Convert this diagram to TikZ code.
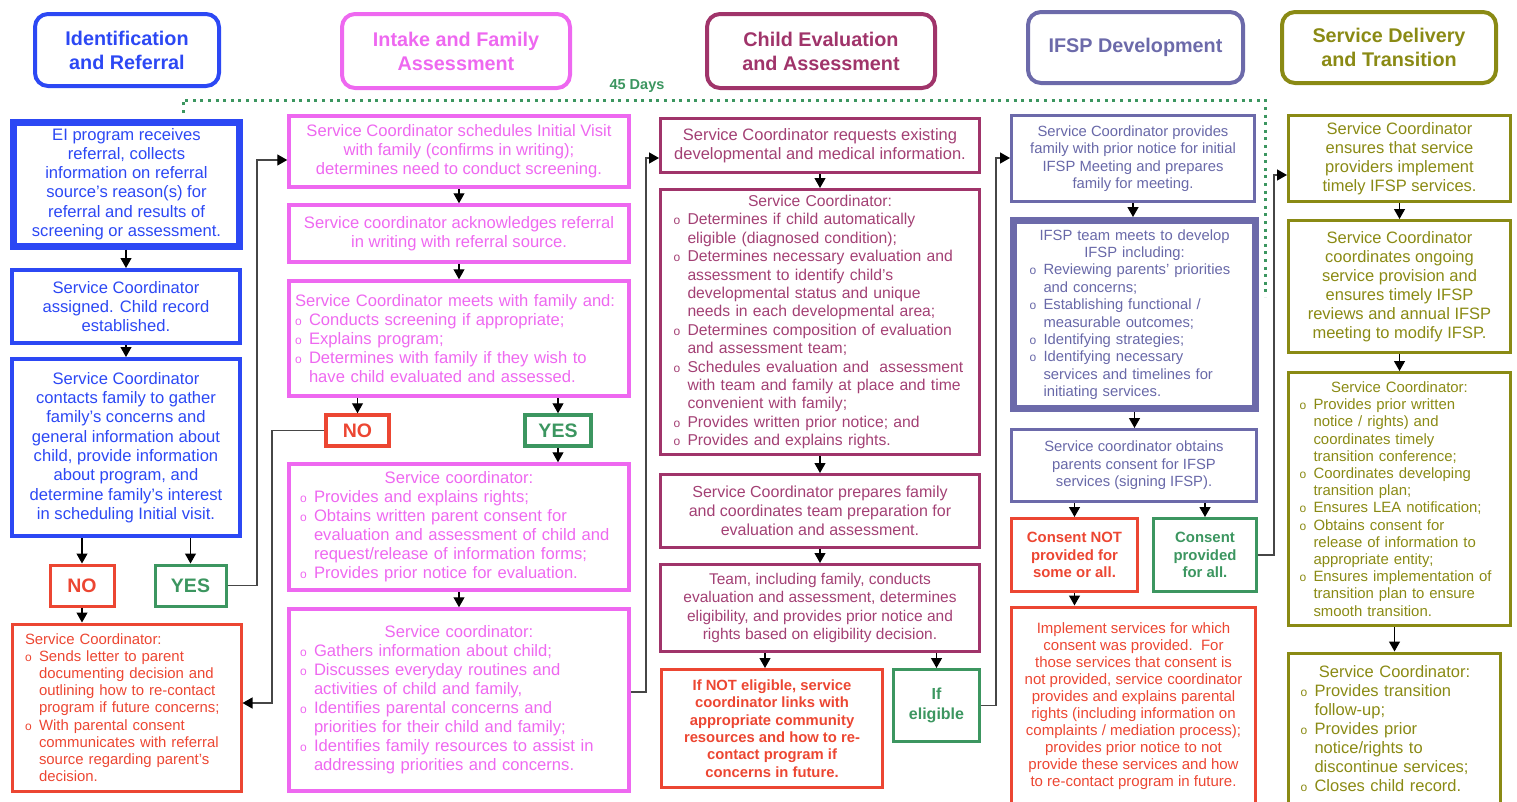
\documentclass[tikz,border=0pt]{standalone}
\usepackage{fontspec}
\setmainfont{Liberation Sans}
\usetikzlibrary{arrows.meta}
\definecolor{idblue}{RGB}{44,72,244}
\definecolor{inmag}{RGB}{238,104,240}
\definecolor{evred}{RGB}{160,52,106}
\definecolor{evtext}{RGB}{163,64,116}
\definecolor{ifsl}{RGB}{108,106,170}
\definecolor{iftext}{RGB}{104,104,168}
\definecolor{sdol}{RGB}{138,138,20}
\definecolor{nored}{RGB}{236,70,50}
\definecolor{yesgr}{RGB}{60,150,96}
\definecolor{linegray}{RGB}{70,70,70}
% bullet item with hanging indent
\newcommand{\itm}{\par\noindent\hangindent=14pt\hangafter=1\makebox[14pt][l]{\fontsize{12}{12}\selectfont o}}
\begin{document}
\begin{tikzpicture}[x=1pt,y=-1pt]
\tikzset{
  box/.style={draw, rectangle, line width=3pt, inner sep=2pt, align=center},
  head/.style={box, rounded corners=13pt, line width=4pt, font=\bfseries\fontsize{19.8}{24}\selectfont},
  idbox/.style={box, draw=idblue, text=idblue, line width=4pt, font=\fontsize{16.6}{19.3}\selectfont},
  inbox/.style={box, draw=inmag, text=inmag, line width=3.5pt, font=\fontsize{16.6}{19}\selectfont},
  evbox/.style={box, draw=evred, text=evtext, font=\fontsize{15.7}{18.4}\selectfont},
  ifbox/.style={box, draw=ifsl, text=iftext, font=\fontsize{14.8}{17.4}\selectfont},
  sdbox/.style={box, draw=sdol, text=sdol, font=\fontsize{16.5}{19}\selectfont},
  sdlist/.style={box, draw=sdol, text=sdol, align=left, font=\fontsize{14.9}{17.2}\selectfont},
  nobox/.style={box, draw=nored, text=nored, font=\bfseries\fontsize{19.5}{22}\selectfont},
  yesbox/.style={box, draw=yesgr, text=yesgr, font=\bfseries\fontsize{19.5}{22}\selectfont},
  redtext/.style={box, draw=nored, text=nored, font=\fontsize{14.9}{17.2}\selectfont},
  redbold/.style={box, draw=nored, text=nored, font=\bfseries\fontsize{14.8}{17.4}\selectfont},
  grnbold/.style={box, draw=yesgr, text=yesgr, font=\bfseries\fontsize{14.9}{17.5}\selectfont},
  arr/.style={-{Triangle[length=10pt,width=11pt]}, line width=1.2pt, draw=black},
  link/.style={-{Triangle[length=10pt,width=11pt,color=black]}, line width=1.4pt, draw=linegray},
  days/.style={draw=yesgr, line width=3pt, dash pattern=on 3pt off 4.6pt}
}
\useasboundingbox (0,0) rectangle (1517,801);
\clip (0,0) rectangle (1517,801);
% column headers
\node[head, draw=idblue, text=idblue, minimum width=184pt, minimum height=72pt] (hId) at (127,50) {Identification\\and Referral};
\node[head, draw=inmag, text=inmag, minimum width=228pt, minimum height=74pt] (hIn) at (456,51) {Intake and Family\\Assessment};
\node[head, draw=evred, text=evred, minimum width=228pt, minimum height=74pt] (hEv) at (821,51) {Child Evaluation\\and Assessment};
\node[head, draw=ifsl, text=ifsl, minimum width=215pt, minimum height=71pt] (hIf) at (1135.5,47.5) {IFSP Development};
\node[head, draw=sdol, text=sdol, minimum width=214pt, minimum height=71pt] (hSd) at (1389,47.5) {Service Delivery\\and Transition};
% 45 days bracket
\draw[days] (183,113) -- (183,100) -- (1265,100) -- (1265,297);
\node[text=yesgr, font=\bfseries\fontsize{14.5}{16}\selectfont] (days) at (637,86) {45 Days};
% identification and referral
\node[idbox, line width=7pt, inner sep=0pt, minimum width=226pt, minimum height=124pt] (ref) at (126.5,184) {EI program receives\\referral, collects\\information on referral\\source’s reason(s) for\\referral and results of\\screening or assessment.};
\node[idbox, minimum width=228pt, minimum height=73pt] (assign) at (126,306.5) {Service Coordinator\\assigned. Child record\\established.};
\node[idbox, minimum width=228pt, minimum height=177pt] (contact) at (126,447.5) {Service Coordinator\\contacts family to gather\\family’s concerns and\\general information about\\child, provide information\\about program, and\\determine family’s interest\\in scheduling Initial visit.};
\node[nobox, minimum width=64pt, minimum height=41pt] (no1) at (82,585.5) {NO};
\node[yesbox, minimum width=71pt, minimum height=41pt] (yes1) at (190.5,585.5) {YES};
\node[redtext, align=left, text width=203pt, minimum width=229pt, minimum height=167pt] (letter) at (126.5,707.5) {Service Coordinator:
\itm Sends letter to parent\newline documenting decision and\newline outlining how to re-contact\newline program if future concerns;
\itm With parental consent\newline communicates with referral\newline source regarding parent’s\newline decision.\par};
\draw[arr] (assign.north |- ref.south) -- (assign.north);
\draw[arr] (assign.south) -- (contact.north);
\draw[arr] (no1.north |- contact.south) -- (no1.north);
\draw[arr] (yes1.north |- contact.south) -- (yes1.north);
\draw[arr] (no1.south) -- (no1.south |- letter.north);
% intake and family assessment
\node[inbox, minimum width=340pt, minimum height=71pt] (visit) at (459,151.5) {Service Coordinator schedules Initial Visit\\with family (confirms in writing);\\determines need to conduct screening.};
\node[inbox, minimum width=340pt, minimum height=57pt] (ack) at (459,233.5) {Service coordinator acknowledges referral\\in writing with referral source.};
\node[inbox, align=left, text width=328pt, minimum width=340pt, minimum height=115pt] (meet) at (459,338.5) {Service Coordinator meets with family and:
\itm Conducts screening if appropriate;
\itm Explains program;
\itm Determines with family if they wish to\newline have child evaluated and assessed.\par};
\node[nobox, line width=3.5pt, minimum width=63pt, minimum height=31pt] (no2) at (357.5,430.5) {NO};
\node[yesbox, line width=3.5pt, minimum width=66pt, minimum height=31pt] (yes2) at (558,430.5) {YES};
\node[inbox, align=left, text width=318pt, minimum width=340pt, minimum height=126pt] (rights) at (459,527) {{\centering Service coordinator:\par}
\itm Provides and explains rights;
\itm Obtains written parent consent for\newline evaluation and assessment of child and\newline request/release of information forms;
\itm Provides prior notice for evaluation.\par};
\node[inbox, align=left, text width=318pt, minimum width=340pt, minimum height=182pt] (gather) at (459,700) {{\centering Service coordinator:\par}
\itm Gathers information about child;
\itm Discusses everyday routines and\newline activities of child and family,
\itm Identifies parental concerns and\newline priorities for their child and family;
\itm Identifies family resources to assist in\newline addressing priorities and concerns.\par};
\draw[arr] (visit.south) -- (ack.north);
\draw[arr] (ack.south) -- (meet.north);
\draw[arr] (no2.north |- meet.south) -- (no2.north);
\draw[arr] (yes2.north |- meet.south) -- (yes2.north);
\draw[arr] (yes2.south) -- (yes2.south |- rights.north);
\draw[arr] (rights.south) -- (gather.north);
% child evaluation and assessment
\node[evbox, font=\fontsize{16.5}{19}\selectfont, minimum width=319pt, minimum height=54pt] (request) at (820,145.5) {Service Coordinator requests existing\\developmental and medical information.};
\node[evbox, align=left, text width=293pt, minimum width=319pt, minimum height=265pt] (determ) at (820,322) {{\centering Service Coordinator:\par}
\itm Determines if child automatically\newline eligible (diagnosed condition);
\itm Determines necessary evaluation and\newline assessment to identify child’s\newline developmental status and unique\newline needs in each developmental area;
\itm Determines composition of evaluation\newline and assessment team;
\itm Schedules evaluation and\ \ assessment\newline with team and family at place and time\newline convenient with family;
\itm Provides written prior notice; and
\itm Provides and explains rights.\par};
\node[evbox, font=\fontsize{16}{19}\selectfont, minimum width=319pt, minimum height=73pt] (prep) at (820,511) {Service Coordinator prepares family\\and coordinates team preparation for\\evaluation and assessment.};
\node[evbox, font=\fontsize{15.5}{18.5}\selectfont, minimum width=319pt, minimum height=87pt] (team) at (820,608) {Team, including family, conducts\\evaluation and assessment, determines\\eligibility, and provides prior notice and\\rights based on eligibility decision.};
\node[redbold, minimum width=221pt, minimum height=118pt] (noelig) at (772,728.5) {If NOT eligible, service\\coordinator links with\\appropriate community\\resources and how to re-\\contact program if\\concerns in future.};
\node[grnbold, font=\bfseries\fontsize{16}{19.5}\selectfont, minimum width=86pt, minimum height=72pt] (elig) at (936.5,705.5) {If\\eligible};
\draw[arr] (request.south) -- (request.south |- determ.north);
\draw[arr] (prep.north |- determ.south) -- (prep.north);
\draw[arr] (prep.south) -- (team.north);
\draw[arr] (team.south -| 765,0) -- (noelig.north -| 765,0);
\draw[arr] (elig.north |- team.south) -- (elig.north);
% IFSP development
\node[ifbox, minimum width=243pt, minimum height=86pt] (notice) at (1133,158.5) {Service Coordinator provides\\family with prior notice for initial\\IFSP Meeting and prepares\\family for meeting.};
\node[ifbox, line width=7pt, align=left, text width=210pt, minimum width=242pt, minimum height=188pt] (develop) at (1134.5,314.5) {{\centering IFSP team meets to develop\\IFSP including:\par}
\itm Reviewing parents’ priorities\newline and concerns;
\itm Establishing functional /\newline measurable outcomes;
\itm Identifying strategies;
\itm Identifying necessary\newline services and timelines for\newline initiating services.\par};
\node[ifbox, minimum width=245pt, minimum height=72pt] (consent) at (1134,465.5) {Service coordinator obtains\\parents consent for IFSP\\services (signing IFSP).};
\node[redbold, font=\bfseries\fontsize{14.9}{17.5}\selectfont, minimum width=126pt, minimum height=73pt] (cnot) at (1074.5,555) {Consent NOT\\provided for\\some or all.};
\node[grnbold, minimum width=103pt, minimum height=73pt] (call) at (1205,555) {Consent\\provided\\for all.};
\node[redtext, font=\fontsize{15}{17}\selectfont, minimum width=244pt, minimum height=198pt] (implement) at (1133.5,706) {Implement services for which\\consent was provided.\ \ For\\those services that consent is\\not provided, service coordinator\\provides and explains parental\\rights (including information on\\complaints / mediation process);\\provides prior notice to not\\provide these services and how\\to re-contact program in future.};
\draw[arr] (notice.south) -- (notice.south |- develop.north);
\draw[arr] (develop.south) -- (develop.south |- consent.north);
\draw[arr] (consent.south -| cnot.north) -- (cnot.north);
\draw[arr] (consent.south -| call.north) -- (call.north);
\draw[arr] (cnot.south) -- (cnot.south |- implement.north);
% service delivery and transition
\node[sdbox, minimum width=222pt, minimum height=86pt] (timely) at (1399.5,158.5) {Service Coordinator\\ensures that service\\providers implement\\timely IFSP services.};
\node[sdbox, minimum width=222pt, minimum height=132pt] (ongoing) at (1399.5,286.5) {Service Coordinator\\coordinates ongoing\\service provision and\\ensures timely IFSP\\reviews and annual IFSP\\meeting to modify IFSP.};
\node[sdlist, text width=200pt, minimum width=222pt, minimum height=253pt] (transit) at (1399.5,499) {{\centering Service Coordinator:\par}
\itm Provides prior written\newline notice / rights) and\newline coordinates timely\newline transition conference;
\itm Coordinates developing\newline transition plan;
\itm Ensures LEA notification;
\itm Obtains consent for\newline release of information to\newline appropriate entity;
\itm Ensures implementation of\newline transition plan to ensure\newline smooth transition.\par};
\node[sdlist, font=\fontsize{16.5}{19}\selectfont, text width=188pt, minimum width=212pt, minimum height=152pt] (close) at (1394.5,729) {{\centering Service Coordinator:\par}
\itm Provides transition\newline follow-up;
\itm Provides prior\newline notice/rights to\newline discontinue services;
\itm Closes child record.\par};
\draw[arr] (timely.south) -- (ongoing.north);
\draw[arr] (ongoing.south) -- (transit.north);
\draw[arr] (close.north |- transit.south) -- (close.north);
% connectors between columns
\coordinate (j1) at (257,160);
\draw[link] (yes1.east) -| (j1) -- (j1 -| visit.west);
\coordinate (j2) at (272,703);
\draw[link] (no2.west) -| (j2) -- (j2 -| letter.east);
\coordinate (j3) at (646,692);
\coordinate (j4) at (646,158);
\draw[link] (j3 -| gather.east) -- (j3) -- (j4) -- (j4 -| request.west);
\coordinate (j5) at (996,158);
\draw[link] (elig.east) -| (j5) -- (j5 -| notice.west);
\coordinate (j6) at (1274,175);
\draw[link] (call.east) -| (j6) -- (j6 -| timely.west);
\end{tikzpicture}
\end{document}
